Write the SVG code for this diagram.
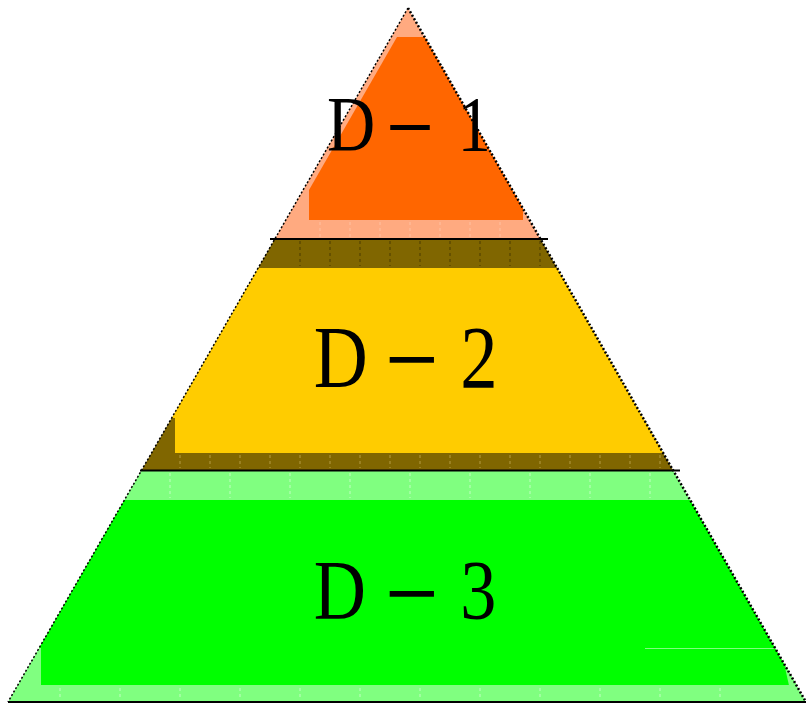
<svg xmlns="http://www.w3.org/2000/svg" width="807" height="704" viewBox="0 0 807 704">
<style>
.lbl{font-family:"Liberation Serif","Times New Roman",serif;fill:#000}
.edge{fill:none;stroke:#000;stroke-dasharray:2 2}
.sep{stroke:#000;stroke-width:2}
.streak{stroke-dasharray:3 3;stroke-width:1}
</style>
<defs>
<clipPath id="tri"><polygon points="408,8 8,702 806,702"/></clipPath>
</defs>
<rect width="807" height="704" fill="#fff"/>
<g clip-path="url(#tri)">
<g id="layer1">
<rect x="0" y="8" width="807" height="231" fill="#FFAA80"/>
<polygon points="397,37 426,37 523,205 523,220 309,220 309,190" fill="#FF6600"/>
<g class="streak" stroke="#FFC0A0"><path d="M320,222V237M350,222V237M380,222V237M410,222V237M440,222V237M470,222V237M500,222V237"/></g>
</g>
<g id="band1">
<rect x="0" y="239" width="807" height="29" fill="#806600"/>
<g class="streak" stroke="#4a3a00"><path d="M300,241V266M330,241V266M360,241V266M390,241V266M420,241V266M450,241V266M480,241V266M510,241V266M540,241V266"/></g>
</g>
<g id="band2">
<rect x="0" y="418" width="807" height="52" fill="#806600"/>
<g class="streak" stroke="#b39a40"><path d="M180,455V468M210,455V468M240,455V468M270,455V468M300,455V468M330,455V468M360,455V468M390,455V468M420,455V468M450,455V468M480,455V468M510,455V468M540,455V468M570,455V468M600,455V468M630,455V468M660,455V468"/></g>
</g>
<g id="layer2">
<polygon points="0,268 807,268 807,453 175,453 175,418 0,418" fill="#FFCC00"/>
</g>
<g id="layer3">
<rect x="0" y="471" width="807" height="231" fill="#80FF80"/>
<polygon points="0,500 807,500 807,685 41,685 41,648 0,648" fill="#00FF00"/>
<polygon points="770,600 807,600 807,690 790,690" fill="#80FF80"/>
<line x1="645" y1="648.5" x2="780" y2="648.5" stroke="#80FF80" stroke-width="1"/>
<g class="streak" stroke="#c0ffc0"><path d="M170,473V498M230,473V498M290,473V498M350,473V498M410,473V498M470,473V498M530,473V498M590,473V498M650,473V498M60,688V700M120,688V700M180,688V700M240,688V700M300,688V700M360,688V700M420,688V700M480,688V700M540,688V700M600,688V700M660,688V700M720,688V700"/></g>
</g>
</g>
<g id="connectors">
<line class="sep" x1="270" y1="239" x2="548" y2="239"/>
<line class="sep" x1="140" y1="470.5" x2="680" y2="470.5"/>
<line class="sep" x1="8" y1="702" x2="806" y2="702"/>
<line class="edge" x1="408" y1="8" x2="8" y2="702" stroke-width="1.5"/>
<line class="edge" x1="408" y1="8" x2="806" y2="702" stroke-width="2.5"/>
</g>
<g id="labels">
<text class="lbl" font-size="78.5" transform="translate(328,150) scale(0.85,1)"><tspan x="-1.3" y="0">D</tspan><tspan x="68.2" y="11" font-size="100">−</tspan><tspan x="152.5" y="0">1</tspan></text>
<text class="lbl" font-size="88" transform="translate(315,387) scale(0.85,1)"><tspan x="-1.5" y="0">D</tspan><tspan x="82" y="10" font-size="112">−</tspan><tspan x="171" y="0">2</tspan></text>
<text class="lbl" font-size="85" transform="translate(315,619) scale(0.85,1)"><tspan x="-1.5" y="0">D</tspan><tspan x="82" y="12" font-size="112">−</tspan><tspan x="171" y="0">3</tspan></text>
</g>
</svg>
